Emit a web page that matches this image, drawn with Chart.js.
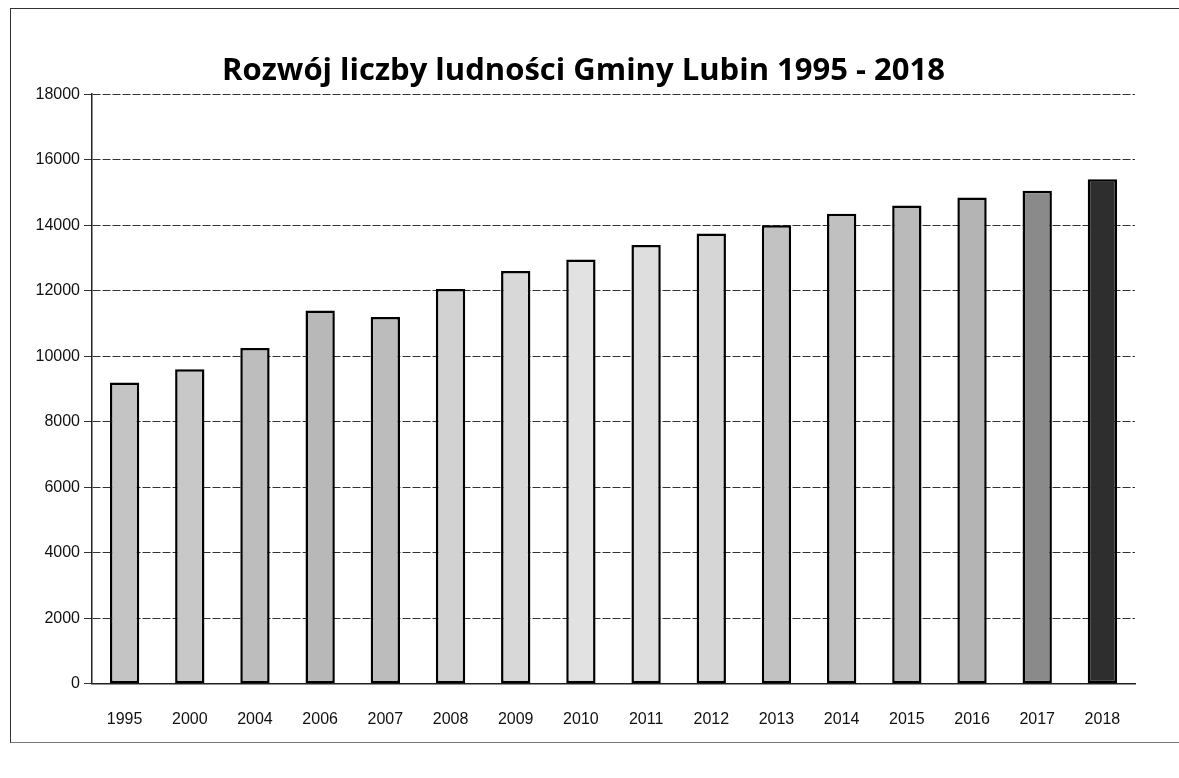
<!DOCTYPE html>
<html lang="pl">
<head>
  <meta charset="UTF-8" />
  <title>Rozwój liczby ludności Gminy Lubin 1995 - 2018</title>
  <style>
    * { margin: 0; padding: 0; box-sizing: border-box; }
    body { background: white; width: 1179px; height: 778px; overflow: hidden; }
    .frame {
      position: absolute;
      left: 10px; top: 8px;
      width: 1175px; height: 735px;
      border-left: 1px solid #333;
      border-top: 1px solid #333;
      border-bottom: 1px solid #777;
    }
    .wrap { position: absolute; left: 0; top: 0; width: 1179px; height: 778px; }
  </style>
</head>
<body>
  <div class="frame"></div>
  <div class="wrap"><canvas id="chartCanvas" width="1179" height="778"></canvas></div>

  <script src="https://cdn.jsdelivr.net/npm/chart.js"></script>
  <script>
    // values
    const years = ['1995', '2000', '2004', '2006', '2007', '2008', '2009', '2010',
                   '2011', '2012', '2013', '2014', '2015', '2016', '2017', '2018'];
    const population = [9200, 9600, 10250, 11400, 11200, 12050, 12600, 12950,
                        13400, 13750, 14000, 14350, 14600, 14850, 15050, 15400];
    const barShades = ['#c4c4c4', '#c8c8c8', '#bdbdbd', '#b8b8b8', '#bcbcbc', '#d2d2d2', '#d8d8d8', '#e2e2e2',
                       '#dedede', '#d6d6d6', '#c2c2c2', '#c0c0c0', '#bababa', '#b4b4b4', '#8a8a8a', '#2e2e2e'];
    const yMax = 18000;
    const yStep = 2000;

    const ctx = document.getElementById('chartCanvas').getContext('2d');
    const chart = new Chart(ctx, {
      type: 'bar',
      data: {
        labels: years,
        datasets: [{
          label: 'Liczba ludności',
          data: population,
          backgroundColor: barShades,
          borderColor: '#000',
          borderWidth: 2.5,
          borderSkipped: false,
          barPercentage: 0.45,
          categoryPercentage: 1
        }]
      },
      options: {
        responsive: false,
        animation: false,
        layout: { padding: { left: 32, right: 44, top: 0, bottom: 23 } },
        plugins: {
          legend: { display: false },
          tooltip: { enabled: false },
          title: {
            display: true,
            text: 'Rozwój liczby ludności Gminy Lubin 1995 - 2018',
            color: '#000',
            font: { family: 'Open Sans', size: 31, weight: 'bold' },
            padding: { top: 53, bottom: 4 }
          }
        },
        scales: {
          x: {
            grid: { display: false, drawTicks: false },
            border: { display: true, color: '#222', width: 1.5 },
            ticks: {
              color: '#111',
              font: { family: 'Liberation Sans', size: 16 },
              padding: 26
            }
          },
          y: {
            min: 0,
            max: yMax,
            afterFit: (scale) => { scale.width = 60; },
            grid: {
              color: '#333',
              lineWidth: 1,
              tickLength: 8
            },
            border: { display: true, color: '#222', width: 1.5, dash: [8, 2] },
            ticks: {
              stepSize: yStep,
              color: '#111',
              font: { family: 'Liberation Sans', size: 16 },
              padding: 4,
              callback: (v) => String(v)
            }
          }
        }
      }
    });
  </script>
</body>
</html>
